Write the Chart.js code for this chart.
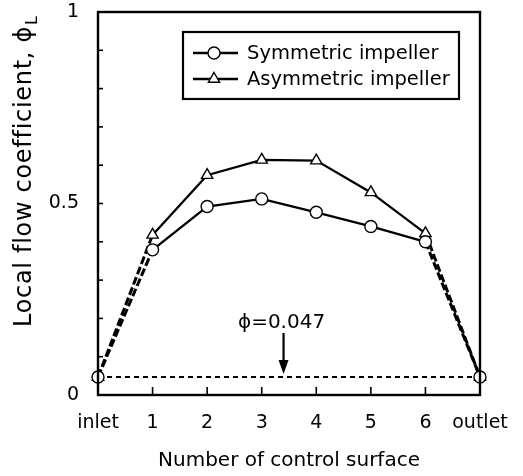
<!DOCTYPE html>
<html lang="en">
<head>
<meta charset="UTF-8">
<title>Local flow coefficient</title>
<script src="https://cdn.jsdelivr.net/npm/chart.js"></script>
<style>
  html, body { margin: 0; padding: 0; background: #fff; }
  #wrap { width: 523px; height: 476px; }
</style>
</head>
<body>
<div id="wrap"><canvas id="chart" width="523" height="476"></canvas></div>
<script>
// control surfaces along the impeller passage
const xLabels = ['inlet', '1', '2', '3', '4', '5', '6', 'outlet'];
const symmetric = [0.047, 0.379, 0.492, 0.512, 0.477, 0.440, 0.400, 0.047];
const asymmetric = [0.047, 0.418, 0.574, 0.614, 0.612, 0.529, 0.422, 0.047];
const flowCoeff = 0.047;
const yLabelValues = [0, 0.5, 1];
const seriesNames = ['Symmetric impeller', 'Asymmetric impeller'];

const FONT = '"DejaVu Sans", sans-serif';
const last = xLabels.length - 1;

const toPoints = arr => arr.map((v, i) => ({ x: i, y: v }));
// first and last segments are dashed (extrapolated to inlet / outlet)
const isEndSeg = c => c.p0DataIndex === 0 || c.p1DataIndex === last;

function seriesDataset(label, data, style, radius) {
  return {
    label: label,
    data: toPoints(data),
    borderColor: '#000',
    borderWidth: 2.3,
    pointStyle: style,
    pointRadius: radius,
    pointBorderWidth: 1.4,
    pointBackgroundColor: '#fff',
    pointBorderColor: '#000',
    clip: false,
    segment: {
      borderDash: c => isEndSeg(c) ? [8, 3] : undefined,
      borderWidth: c => isEndSeg(c) ? 3 : undefined
    }
  };
}

// draws frame, inward ticks, titles, legend and the arrow note
const decorations = {
  id: 'decorations',
  afterDraw(chart) {
    const { ctx, chartArea: a, scales: { x, y } } = chart;
    ctx.save();
    ctx.strokeStyle = '#000';
    ctx.fillStyle = '#000';
    ctx.lineWidth = 2.4;
    ctx.strokeRect(a.left, a.top, a.right - a.left, a.bottom - a.top);

    // inward tick marks
    ctx.lineWidth = 1.6;
    y.ticks.forEach(t => {
      const py = y.getPixelForValue(t.value);
      ctx.beginPath(); ctx.moveTo(a.left, py); ctx.lineTo(a.left + 5, py); ctx.stroke();
    });
    x.ticks.forEach(t => {
      if (t.value <= 0 || t.value >= last) return;
      const px = x.getPixelForValue(t.value);
      ctx.beginPath(); ctx.moveTo(px, a.bottom); ctx.lineTo(px, a.bottom - 8); ctx.stroke();
    });

    // x title
    ctx.font = '20px ' + FONT;
    ctx.textAlign = 'center';
    ctx.textBaseline = 'alphabetic';
    ctx.fillText('Number of control surface', (a.left + a.right) / 2, 466);

    // y title with subscript
    ctx.save();
    ctx.translate(31, 327);
    ctx.rotate(-Math.PI / 2);
    ctx.textAlign = 'left';
    ctx.font = '24px ' + FONT;
    ctx.letterSpacing = '0.7px';
    const main = 'Local flow coefficient, \u03D5';
    ctx.fillText(main, 0, 0);
    const w = ctx.measureText(main).width;
    ctx.letterSpacing = '0px';
    ctx.font = '16px ' + FONT;
    ctx.fillText('L', w + 1, 6);
    ctx.restore();

    // phi annotation with arrow
    const ax = x.getPixelForValue(3.4);
    const yTop = y.getPixelForValue(0.162);
    const yTip = y.getPixelForValue(flowCoeff + 0.008);
    ctx.font = '20px ' + FONT;
    ctx.textAlign = 'center';
    ctx.fillText('\u03D5=0.047', ax - 2, y.getPixelForValue(0.175));
    ctx.lineWidth = 2.2;
    ctx.beginPath(); ctx.moveTo(ax, yTop); ctx.lineTo(ax, yTip - 12); ctx.stroke();
    ctx.beginPath();
    ctx.moveTo(ax - 5, yTip - 14); ctx.lineTo(ax + 5, yTip - 14); ctx.lineTo(ax, yTip);
    ctx.closePath(); ctx.fill();

    // legend
    const lx = a.left + 85, ly = a.top + 20;
    ctx.lineWidth = 2.2;
    ctx.strokeRect(lx, ly, 276, 67);
    ctx.font = '19.5px ' + FONT;
    ctx.textAlign = 'left';
    ctx.textBaseline = 'middle';
    const styles = ['circle', 'triangle'];
    const radii = [6, 6.5];
    seriesNames.forEach((name, i) => {
      const ry = ly + 21 + i * 26;
      ctx.lineWidth = 2.3;
      ctx.beginPath(); ctx.moveTo(lx + 10, ry); ctx.lineTo(lx + 55, ry); ctx.stroke();
      ctx.lineWidth = 1.4;
      ctx.fillStyle = '#fff';
      Chart.helpers.drawPoint(ctx, { pointStyle: styles[i], radius: radii[i], borderWidth: 1.4 }, lx + 31, ry);
      ctx.fillStyle = '#000';
      ctx.fillText(name, lx + 64, ry + 1);
    });
    ctx.restore();
  }
};

new Chart(document.getElementById('chart'), {
  type: 'line',
  data: {
    datasets: [
      seriesDataset(seriesNames[0], symmetric, 'circle', 6),
      seriesDataset(seriesNames[1], asymmetric, 'triangle', 6.5),
      {
        label: 'phi',
        data: [{ x: 0, y: flowCoeff }, { x: last, y: flowCoeff }],
        borderColor: '#000',
        borderWidth: 2,
        borderDash: [5, 4],
        pointRadius: 0
      }
    ]
  },
  options: {
    responsive: false,
    animation: false,
    layout: { padding: { top: 12, right: 43, left: 0, bottom: 0 } },
    plugins: { legend: { display: false }, tooltip: { enabled: false } },
    scales: {
      x: {
        type: 'linear',
        min: 0,
        max: last,
        grid: { display: false, drawTicks: false },
        border: { display: false },
        ticks: {
          stepSize: 1,
          autoSkip: false,
          padding: 17,
          color: '#000',
          font: { family: FONT, size: 19 },
          maxRotation: 0,
          callback: v => xLabels[v]
        },
        afterFit: s => {
          s.height = 81;
          s.paddingLeft = 0; s.paddingRight = 0;
        }
      },
      y: {
        min: 0,
        max: 1,
        grid: { display: false, drawTicks: false },
        border: { display: false },
        ticks: {
          stepSize: 0.1,
          autoSkip: false,
          padding: 19,
          color: '#000',
          font: { family: FONT, size: 19 },
          callback: v => {
            const hit = yLabelValues.find(t => Math.abs(t - v) < 1e-6);
            return hit === undefined ? '' : String(hit);
          }
        },
        afterFit: s => {
          s.width = 98;
          s.paddingTop = 0; s.paddingBottom = 0;
        }
      }
    }
  },
  plugins: [decorations]
});
</script>
</body>
</html>
